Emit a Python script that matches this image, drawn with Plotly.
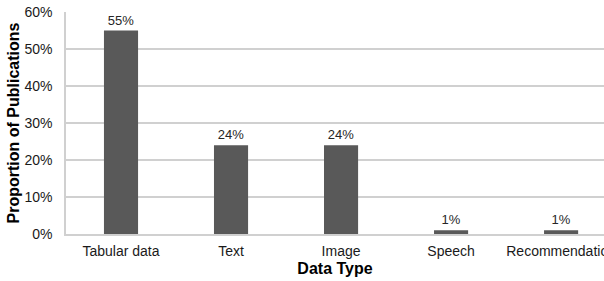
import plotly.graph_objects as go

categories = ["Tabular data", "Text", "Image", "Speech", "Recommendation"]
values = [55, 24, 24, 1, 1]
y_ticks = [0, 10, 20, 30, 40, 50, 60]

FONT = "Liberation Sans, Arial"

fig = go.Figure()
fig.add_trace(go.Bar(
    x=categories, y=values,
    marker=dict(color="#595959", line=dict(width=0)),
    width=0.31,
    text=[f"{v}%" for v in values],
    textposition="outside",
    textfont=dict(family=FONT, size=13, color="#262626"),
    cliponaxis=False,
))

fig.update_layout(
    width=604, height=281,
    margin=dict(l=66, r=0, t=12, b=47),
    paper_bgcolor="white", plot_bgcolor="white",
    showlegend=False,
    xaxis=dict(
        range=[-0.5, 4.39],
        automargin=False,
        showgrid=False,
        showline=True, linecolor="#d0d0d0", linewidth=1.5,
        tickfont=dict(family=FONT, size=14, color="#1a1a1a"),
        ticks="", ticklen=0,
        ticklabelstandoff=3,
        title=dict(text="<b>Data Type</b>", font=dict(family=FONT, size=16, color="black"), standoff=5),
    ),
    yaxis=dict(
        range=[0, 60],
        automargin=False,
        tickvals=y_ticks,
        ticktext=[f"{t}%" for t in y_ticks],
        showgrid=True, gridcolor="#d0d0d0", gridwidth=1.5,
        showline=True, linecolor="#d0d0d0", linewidth=1.5,
        zeroline=False,
        tickfont=dict(family=FONT, size=14, color="#1a1a1a"),
        ticks="",
        ticklabelstandoff=9,
        title=dict(text="<b>Proportion of Publications</b>", font=dict(family=FONT, size=16, color="black"), standoff=1),
    ),
)

fig.write_html(
    "out.html",
    config={"displayModeBar": False},
    post_script="document.body.style.margin='0';document.body.style.overflow='hidden';",
)
